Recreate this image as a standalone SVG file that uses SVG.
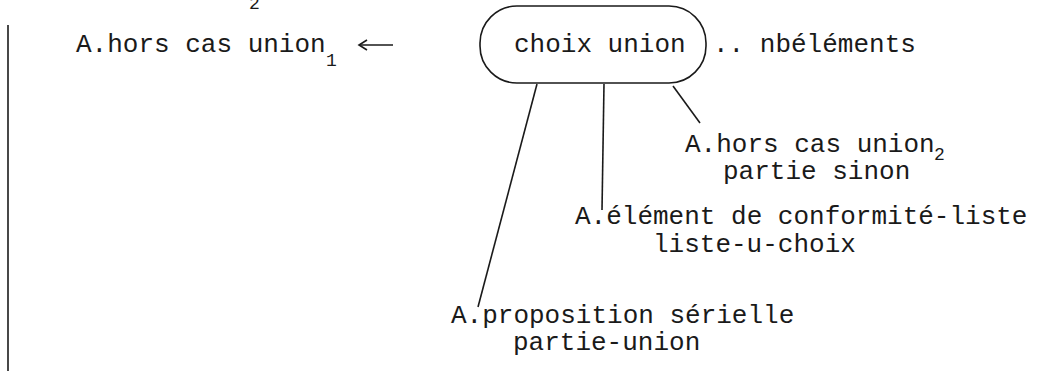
<svg xmlns="http://www.w3.org/2000/svg" width="1038" height="371" viewBox="0 0 1038 371">
<style>
text{font-family:"Liberation Mono","DejaVu Sans Mono",monospace;font-size:26px;fill:#1a1a1a}
.sub{font-size:18px}
.ln{stroke:#1a1a1a;stroke-width:1.6;fill:none}
</style>
<rect width="1038" height="371" fill="#fff"/>
<line class="ln" x1="8" y1="25" x2="8" y2="371" stroke-width="2"/>
<text class="sub" x="249" y="9">2</text>
<g id="hors1">
<text x="76" y="52">A.hors cas union</text>
<text class="sub" x="326" y="66">1</text>
</g>
<g id="choix">
<rect class="ln" x="480" y="6" width="226" height="77" rx="37" ry="37"/>
<text x="514" y="52">choix union</text>
</g>
<g id="nbelements"><text x="713" y="52">.. nbéléments</text></g>
<g id="hors2">
<text x="685" y="152">A.hors cas union</text>
<text class="sub" x="934" y="160">2</text>
<text x="723" y="179">partie sinon</text>
</g>
<g id="element">
<text x="575" y="224">A.élément de conformité-liste</text>
<text x="653" y="252">liste-u-choix</text>
</g>
<g id="proposition">
<text x="451" y="323">A.proposition sérielle</text>
<text x="513" y="350">partie-union</text>
</g>
<g id="connectors">
<line class="ln" x1="393" y1="45" x2="359" y2="45"/>
<path class="ln" d="M367,40 L359,45 L367,50"/>
<line class="ln" x1="537" y1="84" x2="478" y2="307"/>
<line class="ln" x1="604" y1="84" x2="602" y2="210"/>
<line class="ln" x1="673" y1="86" x2="700" y2="123"/>
</g>
</svg>
